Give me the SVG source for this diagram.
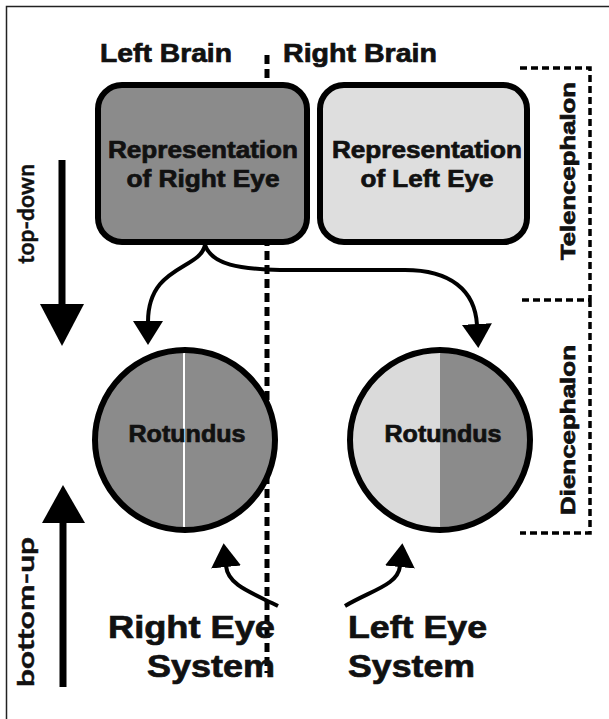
<svg xmlns="http://www.w3.org/2000/svg" width="609" height="719" viewBox="0 0 609 719">
<style>
.t{font-family:"Liberation Sans",Arial,sans-serif;font-weight:bold;fill:#111;stroke:#111;stroke-width:0.7}
.ax{font-family:Lato,"Open Sans",sans-serif;font-weight:bold;fill:#111;stroke:#111;stroke-width:0.4}
.box{stroke:#000;stroke-width:6}
.con{fill:none;stroke:#000;stroke-width:4}
.dash{fill:none;stroke:#000;stroke-width:3.5;stroke-dasharray:7 4}
</style>
<defs>
<marker id="ah" markerUnits="userSpaceOnUse" viewBox="0 0 24 30" markerWidth="24" markerHeight="30" refX="1" refY="15" orient="auto">
<path d="M0,0 L24,15 L0,30 Z" fill="#000"/>
</marker>
<clipPath id="rc"><circle cx="440" cy="440" r="90"/></clipPath>
</defs>
<rect width="609" height="719" fill="#fff"/>
<path d="M6.5,719 V6.5 H609" fill="none" stroke="#222" stroke-width="1.5"/>

<g id="headers">
<text class="t" x="100" y="62" font-size="26" textLength="132" lengthAdjust="spacingAndGlyphs">Left Brain</text>
<text class="t" x="283" y="62" font-size="26" textLength="154" lengthAdjust="spacingAndGlyphs">Right Brain</text>
</g>

<line x1="267" y1="55" x2="267" y2="673" stroke="#000" stroke-width="5" stroke-dasharray="9 5"/>

<g id="brackets">
<path class="dash" d="M520,68 H590 V300 H520 M590,300 V533 H520"/>
<text class="t" transform="translate(575,171) rotate(-90)" text-anchor="middle" font-size="20" textLength="178" lengthAdjust="spacingAndGlyphs">Telencephalon</text>
<text class="t" transform="translate(575,430) rotate(-90)" text-anchor="middle" font-size="20" textLength="170" lengthAdjust="spacingAndGlyphs">Diencephalon</text>
</g>

<g id="repRight">
<rect class="box" x="98" y="85" width="209" height="157" rx="24" fill="#8b8b8b"/>
<text class="t" x="203" y="158" text-anchor="middle" font-size="23" textLength="190" lengthAdjust="spacingAndGlyphs">Representation</text>
<text class="t" x="203" y="187" text-anchor="middle" font-size="23" textLength="153" lengthAdjust="spacingAndGlyphs">of Right Eye</text>
</g>

<g id="repLeft">
<rect class="box" x="320" y="85" width="207" height="157" rx="24" fill="#dedede"/>
<text class="t" x="427" y="158" text-anchor="middle" font-size="23" textLength="190" lengthAdjust="spacingAndGlyphs">Representation</text>
<text class="t" x="427" y="187" text-anchor="middle" font-size="23" textLength="133" lengthAdjust="spacingAndGlyphs">of Left Eye</text>
</g>

<g id="rotundusLeft">
<circle cx="185" cy="440" r="90" fill="#8b8b8b"/>
<line x1="184" y1="350" x2="184" y2="530" stroke="#fff" stroke-width="2"/>
<circle cx="185" cy="440" r="90" fill="none" stroke="#000" stroke-width="6"/>
<text class="t" x="187" y="442" text-anchor="middle" font-size="23" textLength="117" lengthAdjust="spacingAndGlyphs">Rotundus</text>
</g>

<g id="rotundusRight">
<g clip-path="url(#rc)">
<rect x="350" y="350" width="90" height="180" fill="#dadada"/>
<rect x="440" y="350" width="90" height="180" fill="#8b8b8b"/>
</g>
<circle cx="440" cy="440" r="90" fill="none" stroke="#000" stroke-width="6"/>
<text class="t" x="443" y="442" text-anchor="middle" font-size="23" textLength="117" lengthAdjust="spacingAndGlyphs">Rotundus</text>
</g>

<g id="rightEyeSystem">
<text class="t" x="275" y="638" text-anchor="end" font-size="32" textLength="167" lengthAdjust="spacingAndGlyphs">Right Eye</text>
<text class="t" x="275" y="677" text-anchor="end" font-size="32" textLength="128" lengthAdjust="spacingAndGlyphs">System</text>
</g>

<g id="leftEyeSystem">
<text class="t" x="348" y="638" font-size="32" textLength="139" lengthAdjust="spacingAndGlyphs">Left Eye</text>
<text class="t" x="348" y="677" font-size="32" textLength="127" lengthAdjust="spacingAndGlyphs">System</text>
</g>

<g id="axisArrows">
<line x1="62" y1="160" x2="62" y2="306" stroke="#000" stroke-width="7"/>
<path d="M40,304 L84,304 L62,346 Z" fill="#000"/>
<text class="ax" transform="translate(34,214) rotate(-90)" text-anchor="middle" font-size="23" textLength="100" lengthAdjust="spacingAndGlyphs">top-down</text>
<line x1="63" y1="520" x2="63" y2="687" stroke="#000" stroke-width="7"/>
<path d="M42,523 L85,523 L63,485 Z" fill="#000"/>
<text class="ax" transform="translate(34,612) rotate(-90)" text-anchor="middle" font-size="23" textLength="150" lengthAdjust="spacingAndGlyphs">bottom-up</text>
</g>

<g id="connectors">
<path class="con" d="M205,245 C200,270 148,265 148,322" marker-end="url(#ah)"/>
<path class="con" d="M205,245 C212,265 240,269 280,270 L405,270 C450,270 475,290 477,325" marker-end="url(#ah)"/>
<path class="con" d="M278,606 C250,592 228,585 226,566" marker-end="url(#ah)"/>
<path class="con" d="M345,606 C372,590 398,585 400,566" marker-end="url(#ah)"/>
</g>
</svg>
